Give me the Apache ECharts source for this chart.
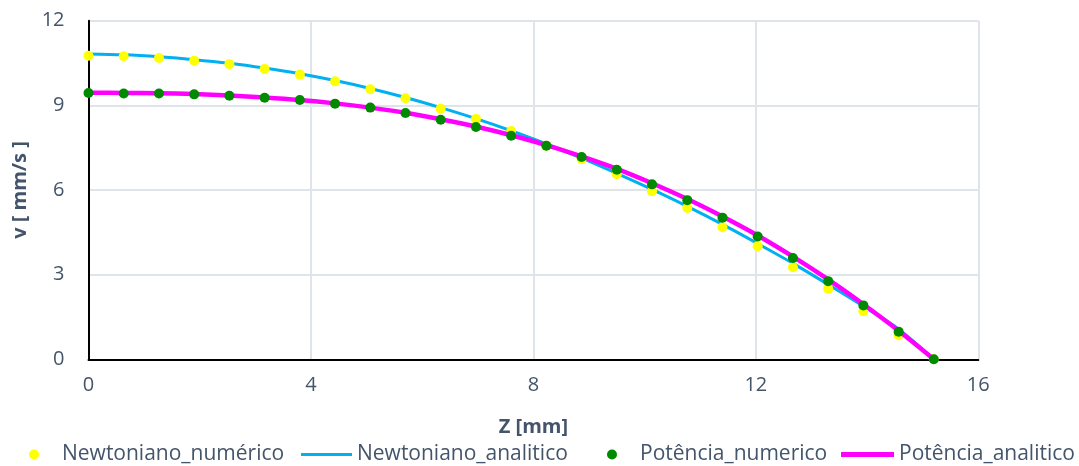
<!DOCTYPE html>
<html>
<head>
<meta charset="utf-8">
<script src="https://cdn.jsdelivr.net/npm/echarts@6/dist/echarts.min.js"></script>
<style>html,body{margin:0;padding:0;background:#fff}#c{width:1079px;height:466px}</style>
</head>
<body>
<div id="c"></div>
<script>
const zVals = [0, 0.633, 1.267, 1.9, 2.533, 3.167, 3.8, 4.433, 5.067, 5.7, 6.333, 6.967, 7.6, 8.233, 8.867, 9.5, 10.133, 10.767, 11.4, 12.033, 12.667, 13.3, 13.933, 14.567, 15.2];
const newtNum = [10.76, 10.74, 10.68, 10.58, 10.46, 10.29, 10.09, 9.85, 9.57, 9.25, 8.88, 8.52, 8.09, 7.57, 7.09, 6.56, 5.96, 5.36, 4.68, 4.01, 3.26, 2.50, 1.70, 0.85, 0];
const newtAna = [10.82, 10.79, 10.72, 10.62, 10.49, 10.32, 10.12, 9.88, 9.60, 9.28, 8.92, 8.53, 8.10, 7.63, 7.13, 6.59, 6.02, 5.42, 4.78, 4.10, 3.40, 2.65, 1.88, 1.07, 0];
const potNum = [9.44, 9.42, 9.42, 9.39, 9.34, 9.27, 9.19, 9.06, 8.92, 8.73, 8.49, 8.23, 7.92, 7.57, 7.17, 6.72, 6.20, 5.64, 5.02, 4.35, 3.59, 2.77, 1.91, 0.98, 0];
const potAna = [9.45, 9.44, 9.43, 9.40, 9.35, 9.28, 9.19, 9.07, 8.92, 8.74, 8.51, 8.25, 7.94, 7.59, 7.19, 6.75, 6.24, 5.68, 5.06, 4.39, 3.64, 2.83, 1.95, 1.01, 0];
const seriesNames = ['Newtoniano_numérico', 'Newtoniano_analitico', 'Potência_numerico', 'Potência_analitico'];
const xTitle = 'Z [mm]';
const yTitle = 'v [ mm/s ]';

const pair = arr => zVals.map((z, i) => [z, arr[i]]);
const TXT = '#44546A';
const FONT = 'Open Sans';
const legendBase = {
  orient: 'horizontal', top: 439, itemGap: 0,
  textStyle: { color: TXT, fontFamily: FONT, fontSize: 21 }
};

const chart = echarts.init(document.getElementById('c'), null, { renderer: 'canvas' });
chart.setOption({
  animation: false,
  backgroundColor: '#fff',
  textStyle: { fontFamily: FONT },
  grid: { left: 88.5, right: 100.7, top: 20.7, bottom: 106.7, containLabel: false },
  xAxis: {
    type: 'value', min: 0, max: 16, interval: 4,
    name: xTitle, nameLocation: 'middle', nameGap: 58,
    nameTextStyle: { color: TXT, fontWeight: 'bold', fontSize: 20, fontFamily: FONT },
    axisLine: { show: true, onZero: false, lineStyle: { color: '#000', width: 2 } },
    axisTick: { show: false },
    axisLabel: { color: TXT, fontSize: 20, fontFamily: FONT, margin: 16 },
    splitLine: { show: true, lineStyle: { color: '#dfe3ea', width: 2 } }
  },
  yAxis: {
    type: 'value', min: 0, max: 12, interval: 3,
    name: yTitle, nameLocation: 'middle', nameGap: 57, nameRotate: 90,
    nameTextStyle: { color: TXT, fontWeight: 'bold', fontSize: 20, fontFamily: FONT },
    axisLine: { show: true, onZero: false, lineStyle: { color: '#000', width: 2 } },
    axisTick: { show: false },
    axisLabel: { color: TXT, fontSize: 20, fontFamily: FONT, margin: 24 },
    splitLine: { show: true, lineStyle: { color: '#dfe3ea', width: 2 } }
  },
  legend: [
    Object.assign({}, legendBase, { left: 24, data: [{ name: seriesNames[0], icon: 'circle' }], itemWidth: 10, itemHeight: 10,
      textStyle: Object.assign({}, legendBase.textStyle, { padding: [0, 0, 0, 18] }) }),
    Object.assign({}, legendBase, { left: 296, data: [{ name: seriesNames[1], icon: 'rect' }], itemWidth: 51, itemHeight: 3 }),
    Object.assign({}, legendBase, { left: 602, data: [{ name: seriesNames[2], icon: 'circle' }], itemWidth: 10, itemHeight: 10,
      textStyle: Object.assign({}, legendBase.textStyle, { padding: [0, 0, 0, 18] }) }),
    Object.assign({}, legendBase, { left: 836, data: [{ name: seriesNames[3], icon: 'rect' }], itemWidth: 53, itemHeight: 5 })
  ],
  series: [
    { name: seriesNames[0], type: 'scatter', data: pair(newtNum), symbol: 'circle', symbolSize: 10,
      itemStyle: { color: '#FFFF00', opacity: 1 }, z: 3 },
    { name: seriesNames[1], type: 'line', data: pair(newtAna), smooth: 0.3, showSymbol: false, symbol: 'none',
      lineStyle: { color: '#00B0F0', width: 3 }, itemStyle: { color: '#00B0F0' }, z: 2 },
    { name: seriesNames[2], type: 'scatter', data: pair(potNum), symbol: 'circle', symbolSize: 10,
      itemStyle: { color: '#008A00', opacity: 1 }, z: 5 },
    { name: seriesNames[3], type: 'line', data: pair(potAna), smooth: 0.3, showSymbol: false, symbol: 'none',
      lineStyle: { color: '#FF00FF', width: 4.5 }, itemStyle: { color: '#FF00FF' }, z: 4 }
  ]
});
</script>
</body>
</html>
